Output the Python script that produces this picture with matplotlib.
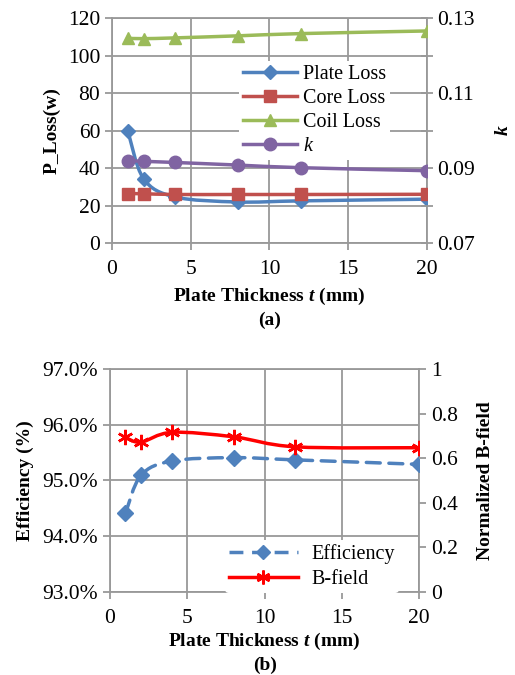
import numpy as np
import matplotlib.pyplot as plt
from matplotlib.path import Path
from matplotlib.patches import PathPatch
from matplotlib.lines import Line2D
from matplotlib.ticker import FuncFormatter

plt.rcParams['font.family'] = ['Liberation Serif', 'DejaVu Serif']
plt.rcParams['mathtext.fontset'] = 'custom'
plt.rcParams['mathtext.rm'] = 'Liberation Serif'
plt.rcParams['mathtext.it'] = 'Liberation Serif:italic'
plt.rcParams['mathtext.bf'] = 'Liberation Serif:bold'
plt.rcParams['mathtext.bfit'] = 'Liberation Serif:italic:bold'

# data
thick = [1, 2, 4, 8, 12, 20]
plate_loss = [60.0, 34.4, 24.6, 21.9, 22.5, 23.4]
core_loss = [26.4, 26.3, 25.9, 25.9, 25.9, 26.0]
coil_loss = [109.3, 109.1, 109.5, 110.6, 111.8, 113.2]
k_vals = [0.0920, 0.0918, 0.0915, 0.0908, 0.0901, 0.0893]

efficiency = [94.41, 95.09, 95.35, 95.41, 95.37, 95.29]
b_field = [0.693, 0.672, 0.716, 0.696, 0.651, 0.647]

BLUE = '#4F81BD'
RED = '#C0504D'
GREEN = '#9BBB59'
PURPLE = '#8064A2'
GRID = '#999999'
TICK_FS = 15.5
LAB_FS = 14
LEG_FS = 14.5


def smooth(ax, x, y, **kw):
    # Excel-like smoothed line: cubic bezier segments (Catmull-Rom tangents)
    x = np.asarray(x, float)
    y = np.asarray(y, float)
    pts = ax.transData.transform(np.column_stack([x, y]))
    n = len(pts)
    verts = [pts[0]]
    codes = [Path.MOVETO]
    t = 1 / 6
    for i in range(n - 1):
        p0 = pts[i - 1] if i > 0 else pts[i]
        p1, p2 = pts[i], pts[i + 1]
        p3 = pts[i + 2] if i + 2 < n else pts[i + 1]
        c1 = p1 + (p2 - p0) * t
        c2 = p2 - (p3 - p1) * t
        verts += [c1, c2, p2]
        codes += [Path.CURVE4] * 3
    verts = ax.transData.inverted().transform(np.array(verts))
    patch = PathPatch(Path(verts, codes), fill=False, transform=ax.transData,
                      capstyle='round', joinstyle='round', **kw)
    ax.add_patch(patch)


def frame(ax):
    for s in ax.spines.values():
        s.set_color(GRID)
        s.set_linewidth(1.3)
    ax.grid(True, color=GRID, linewidth=1.3)
    ax.set_axisbelow(True)


def legend_box(leg):
    leg.get_frame().set_edgecolor('none')
    leg.get_frame().set_facecolor('white')
    leg.get_frame().set_alpha(1)


fig = plt.figure(figsize=(5.15, 6.75), dpi=100)

# ---------- (a) ----------
ax1 = fig.add_axes([0.2175, 0.64, 0.6115, 0.333])
ax1.set_xlim(0, 20)
ax1.set_ylim(0, 120)
ax1.set_xticks([0, 5, 10, 15, 20])
ax1.set_yticks(range(0, 121, 20))
frame(ax1)
ax1.tick_params(labelsize=TICK_FS, color=GRID, width=1.3, length=5)
ax1.tick_params(axis='x', pad=7)
ax1b = ax1.twinx()
ax1b.set_ylim(0.07, 0.13)
ax1b.set_yticks(np.arange(0.07, 0.1301, 0.01))
ax1b.yaxis.set_major_formatter(FuncFormatter(
    lambda v, p: f'{v:.2f}' if p % 2 == 0 else ''))
ax1b.tick_params(labelsize=TICK_FS, color=GRID, width=1.3, length=8, direction='inout')
for s in ax1b.spines.values():
    s.set_visible(False)

lw = 2.5
fig.canvas.draw()
smooth(ax1, thick, plate_loss, color=BLUE, lw=lw, zorder=3)
smooth(ax1, thick, core_loss, color=RED, lw=lw, zorder=3)
smooth(ax1, thick, coil_loss, color=GREEN, lw=lw, zorder=3)
smooth(ax1b, thick, k_vals, color=PURPLE, lw=lw, zorder=3)
ax1.plot(thick, plate_loss, color=BLUE, lw=0, marker='D', ms=7, zorder=4)
ax1.plot(thick, core_loss, color=RED, lw=0, marker='s', ms=8, zorder=4)
ax1.plot(thick, coil_loss, color=GREEN, lw=0, marker='^', ms=9, zorder=4)
ax1b.plot(thick, k_vals, color=PURPLE, lw=0, marker='o', ms=9, zorder=4)

leg_h = [Line2D([], [], color=c, lw=lw, marker=m, ms=s)
         for c, m, s in [(BLUE, 'D', 7), (RED, 's', 8), (GREEN, '^', 9), (PURPLE, 'o', 9)]]
leg = ax1b.legend(leg_h, ['Plate Loss', 'Core Loss', 'Coil Loss', '$k$'],
                  loc='upper left', bbox_to_anchor=(0.37, 0.855), frameon=True,
                  fontsize=LEG_FS, handlelength=2.7, labelspacing=0.25, borderpad=0.2,
                  handletextpad=0.3)
legend_box(leg)

ax1.set_ylabel('P_Loss(w)', fontsize=LAB_FS, fontweight='bold', labelpad=5)
ax1b.set_ylabel('$\\boldsymbol{k}$', fontsize=LAB_FS, labelpad=14)
ax1.set_xlabel('Plate Thickness $\\boldsymbol{t}$ (mm)', fontsize=LAB_FS,
               fontweight='bold', labelpad=5)
fig.text(0.523, 0.518, '(a)', fontsize=LAB_FS, fontweight='bold', ha='center')

# ---------- (b) ----------
ax2 = fig.add_axes([0.2136, 0.123, 0.6, 0.3303])
ax2.set_xlim(0, 20)
ax2.set_ylim(93, 97)
ax2.set_xticks([0, 5, 10, 15, 20])
ax2.set_yticks([93, 94, 95, 96, 97])
ax2.yaxis.set_major_formatter(FuncFormatter(lambda v, p: f'{v:.1f}%'))
frame(ax2)
ax2.tick_params(labelsize=TICK_FS, color=GRID, width=1.3, length=5)
ax2.tick_params(axis='x', pad=7)
ax2b = ax2.twinx()
ax2b.set_ylim(0, 1)
ax2b.set_yticks([0, 0.2, 0.4, 0.6, 0.8, 1])
ax2b.yaxis.set_major_formatter(FuncFormatter(lambda v, p: f'{v:g}'))
ax2b.tick_params(labelsize=TICK_FS, color=GRID, width=1.3, length=5)
for s in ax2b.spines.values():
    s.set_visible(False)

fig.canvas.draw()
smooth(ax2, thick, efficiency, color=BLUE, lw=lw, ls=(0, (4, 2.5)), zorder=3)
smooth(ax2b, thick, b_field, color='#FF0000', lw=lw, zorder=3)
ax2.plot(thick, efficiency, color=BLUE, lw=0, marker='D', ms=8, zorder=4)
star = (6, 2, 0)
ax2b.plot(thick, b_field, color='#FF0000', lw=0, marker=star, ms=11, mew=1.8, zorder=4)

leg2_h = [Line2D([], [], color=BLUE, lw=lw, ls=(0, (4, 2.5)), marker='D', ms=7),
          Line2D([], [], color='#FF0000', lw=lw, marker=star, ms=10, mew=1.8)]
leg2 = ax2b.legend(leg2_h, ['Efficiency', 'B-field'], loc='upper left',
                   bbox_to_anchor=(0.34, 0.28), frameon=True, fontsize=LEG_FS,
                   handlelength=3.4, labelspacing=0.3, borderpad=0.2, handletextpad=0.7)
legend_box(leg2)

ax2.set_ylabel('Efficiency (%)', fontsize=LAB_FS, fontweight='bold', labelpad=6)
ax2b.set_ylabel('Normalized B-field', fontsize=LAB_FS, fontweight='bold', labelpad=14)
ax2.set_xlabel('Plate Thickness $\\boldsymbol{t}$ (mm)', fontsize=LAB_FS,
               fontweight='bold', labelpad=2)
fig.text(0.515, 0.008, '(b)', fontsize=LAB_FS, fontweight='bold', ha='center')

fig.savefig('out.png', dpi=100)
